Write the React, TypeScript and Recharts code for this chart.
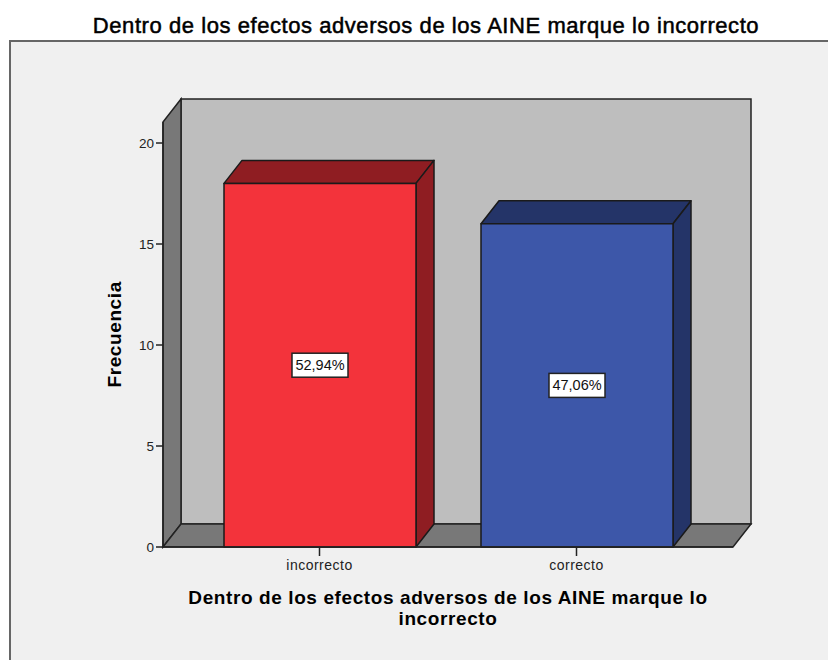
import { Bar, BarChart, Cell, LabelList, XAxis, YAxis, usePlotArea } from "recharts"

const categories = ["incorrecto", "correcto"]
const frequencies = [18, 16]
const percentLabels = ["52,94%", "47,06%"]
const yTicks = [0, 5, 10, 15, 20]

const rows = categories.map((name, i) => ({ name, value: frequencies[i], pct: percentLabels[i] }))

const FRONT = ["#f3333b", "#3d57a9"]
const DARK = ["#8f1d22", "#243468"]
const DX = 18
const DY = 23
const FONT = "'Liberation Sans', Arial, sans-serif"

function Backdrop() {
  const plot = usePlotArea()
  if (!plot) return null
  const { x, y, width, height } = plot
  const bottom = y + height
  const right = x + width
  return (
    <g>
      <rect x={10} y={41} width={820} height={621} fill="#f0f0f0" stroke="#666666" strokeWidth={2} />
      <rect x={x + DX} y={y - DY} width={width} height={height} fill="#bebebe" stroke="#222" strokeWidth={1.5} />
      <path
        d={`M ${x} ${bottom} L ${x} ${y} L ${x + DX} ${y - DY} L ${x + DX} ${bottom - DY} Z`}
        fill="#787878"
        stroke="#222"
        strokeWidth={1.5}
      />
      <path
        d={`M ${x} ${bottom} L ${x + DX} ${bottom - DY} L ${right + DX} ${bottom - DY} L ${right} ${bottom} Z`}
        fill="#787878"
        stroke="#222"
        strokeWidth={1.5}
      />
    </g>
  )
}

function Titles() {
  return (
    <g fontFamily={FONT} fill="#000">
      <text x={426} y={33} textAnchor="middle" fontSize={22} stroke="#000" strokeWidth={0.5} letterSpacing={0.56}>
        Dentro de los efectos adversos de los AINE marque lo incorrecto
      </text>
      <text x={448} y={604} textAnchor="middle" fontSize={19} fontWeight="bold" letterSpacing={0.6}>
        Dentro de los efectos adversos de los AINE marque lo
      </text>
      <text x={448} y={625} textAnchor="middle" fontSize={19} fontWeight="bold" letterSpacing={0.6}>
        incorrecto
      </text>
    </g>
  )
}

function Box3D(props: any) {
  const { x, y, width, height, index } = props
  const r = x + width
  const b = y + height
  return (
    <g stroke="#1a1a1a" strokeWidth={1.5} strokeLinejoin="round">
      <path
        d={`M ${x} ${y} L ${x + DX} ${y - DY} L ${r + DX} ${y - DY} L ${r} ${y} Z`}
        fill={DARK[index]}
      />
      <path
        d={`M ${r} ${y} L ${r + DX} ${y - DY} L ${r + DX} ${b - DY} L ${r} ${b} Z`}
        fill={DARK[index]}
      />
      <rect x={x} y={y} width={width} height={height} fill={FRONT[index]} />
    </g>
  )
}

function PctLabel(props: any) {
  const { x, y, width, height, value } = props
  const cx = x + width / 2
  const cy = y + height / 2
  return (
    <g>
      <rect x={cx - 28} y={cy - 12} width={56} height={24} fill="#fff" stroke="#222" strokeWidth={1.5} />
      <text x={cx} y={cy + 5} textAnchor="middle" fontFamily={FONT} fontSize={14.5} fill="#111">
        {value}
      </text>
    </g>
  )
}

export default function App() {
  return (
    <div style={{ position: "absolute", left: 0, top: 0, width: 828, height: 660, background: "#fff" }}>
      <BarChart
        width={828}
        height={660}
        data={rows}
        margin={{ top: 122, right: 95, bottom: 0, left: 0 }}
        barSize={192}
      >
        <Backdrop />
        <Titles />
        <XAxis
          dataKey="name"
          padding={{ left: 28, right: 28 }}
          tickSize={9}
          tickMargin={4}
          height={113}
          axisLine={{ stroke: "#222", strokeWidth: 1.5 }}
          tickLine={{ stroke: "#222", strokeWidth: 1.5 }}
          tick={{ fill: "#222", fontSize: 14, fontFamily: FONT, letterSpacing: 0.5 }}
        />
        <YAxis
          domain={[0, 21.04]}
          ticks={yTicks}
          width={163}
          tickSize={7}
          axisLine={{ stroke: "#222", strokeWidth: 1.5 }}
          tickLine={{ stroke: "#222", strokeWidth: 1.5 }}
          tick={{ fill: "#222", fontSize: 13.5, fontFamily: FONT }}
          label={{
            value: "Frecuencia",
            angle: -90,
            position: "insideLeft",
            dx: 109,
            dy: 53,
            style: { fontFamily: FONT, fontSize: 19, fontWeight: "bold", fill: "#000", letterSpacing: 0.6 },
          }}
        />
        <Bar dataKey="value" isAnimationActive={false} shape={<Box3D />}>
          {rows.map((r, i) => (
            <Cell key={r.name} fill={FRONT[i]} />
          ))}
          <LabelList dataKey="pct" content={<PctLabel />} />
        </Bar>
      </BarChart>
    </div>
  )
}
